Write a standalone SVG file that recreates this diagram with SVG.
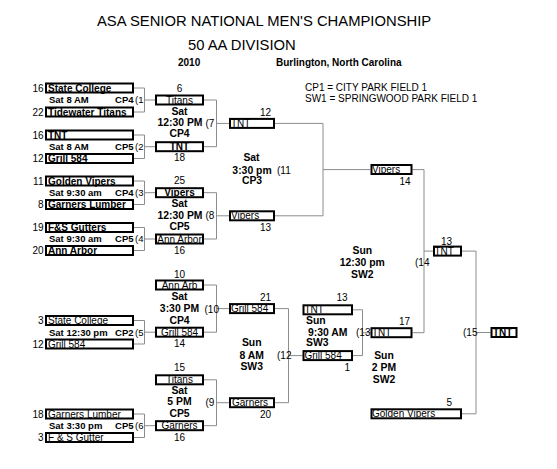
<svg xmlns="http://www.w3.org/2000/svg" width="557" height="469" viewBox="0 0 557 469">
<style>
.bx{fill:#fff;stroke:#000;stroke-width:2}
.ln{fill:none;stroke:#8c8c8c;stroke-width:1}
text{font-family:"Liberation Sans",Arial,Helvetica,sans-serif;font-size:10px;fill:#000}
.b{font-weight:bold}
.s{font-size:9.5px}
.m{font-size:10.4px}
.c{text-anchor:middle}
.e{text-anchor:end}
.h{font-size:14.8px}
</style>
<rect width="557" height="469" fill="#fff"/>
<g id="header">
<text class="h" x="97" y="26">ASA SENIOR NATIONAL MEN'S CHAMPIONSHIP</text>
<text class="h" x="188" y="50">50 AA DIVISION</text>
<text class="b" x="178" y="65.5">2010</text>
<text class="b" x="276" y="65.5">Burlington, North Carolina</text>
<text x="305" y="91">CP1 = CITY PARK FIELD 1</text>
<text x="305" y="102">SW1 = SPRINGWOOD PARK FIELD 1</text>
</g>
<g id="connectors">
<path class="ln" d="M134,88H144.5V112H134M144.5,100H155"/>
<path class="ln" d="M134,135H144.5V158.5H134M144.5,146.7H155"/>
<path class="ln" d="M134,181H144.5V204.5H134M144.5,192.7H155"/>
<path class="ln" d="M134,227.5H144.5V250.5H134M144.5,239H155"/>
<path class="ln" d="M134,320.5H144.5V344H134M144.5,332.2H155"/>
<path class="ln" d="M134,414H144.5V437.5H134M144.5,425.7H155"/>
<path class="ln" d="M204,100H216.5V146.7H204M216.5,123.4H229"/>
<path class="ln" d="M204,192.7H216.5V239H204M216.5,215.8H229"/>
<path class="ln" d="M204,285H216.5V332.2H204M216.5,308.6H229"/>
<path class="ln" d="M204,379.8H216.5V425.7H204M216.5,402.7H229"/>
<path class="ln" d="M275,123.4H323V215.8H275M323,169.6H370.5"/>
<path class="ln" d="M275,308.6H288.5V402.7H275M288.5,355.6H302.5"/>
<path class="ln" d="M353,309.8H362.5V355.6H353M362.5,332.7H370.5"/>
<path class="ln" d="M412.5,169.6H424V332.7H412.5M424,251.1H433"/>
<path class="ln" d="M462,251.1H476V413.8H462M476,332.5H490.5"/>
</g>
<g id="round1">
<g id="r1-state-college"><rect class="bx" x="46" y="83.5" width="87" height="9"/><text class="b" x="48" y="91.5">State College</text><text class="e" x="43.5" y="91.5">16</text></g>
<g id="r1-tidewater"><rect class="bx" x="46" y="107.5" width="87" height="9"/><text class="b" x="48" y="115.5">Tidewater Titans</text><text class="e" x="43.5" y="115.5">22</text></g>
<g id="r1-tnt"><rect class="bx" x="46" y="130.5" width="87" height="9"/><text class="b" x="48" y="138.5">TNT</text><text class="e" x="43.5" y="138.5">16</text></g>
<g id="r1-grill"><rect class="bx" x="46" y="154" width="87" height="9"/><text class="b" x="48" y="162">Grill 584</text><text class="e" x="43.5" y="162">12</text></g>
<g id="r1-golden-vipers"><rect class="bx" x="46" y="176.5" width="87" height="9"/><text class="b" x="48" y="184.5">Golden Vipers</text><text class="e" x="43.5" y="184.5">11</text></g>
<g id="r1-garners-lumber"><rect class="bx" x="46" y="200" width="87" height="9"/><text class="b" x="48" y="208">Garners Lumber</text><text class="e" x="43.5" y="208">8</text></g>
<g id="r1-fs-gutters"><rect class="bx" x="46" y="223" width="87" height="9"/><text class="b" x="48" y="231">F&amp;S Gutters</text><text class="e" x="43.5" y="231">19</text></g>
<g id="r1-ann-arbor"><rect class="bx" x="46" y="246" width="87" height="9"/><text class="b" x="48" y="254">Ann Arbor</text><text class="e" x="43.5" y="254">20</text></g>
<g id="r1-state-college-2"><rect class="bx" x="46" y="316" width="87" height="9"/><text x="48" y="324">State College</text><text class="e" x="43.5" y="324">3</text></g>
<g id="r1-grill-2"><rect class="bx" x="46" y="339.5" width="87" height="9"/><text x="48" y="347.5">Grill 584</text><text class="e" x="43.5" y="347.5">12</text></g>
<g id="r1-garners-lumber-2"><rect class="bx" x="46" y="409.5" width="87" height="9"/><text x="48" y="417.5">Garners Lumber</text><text class="e" x="43.5" y="417.5">18</text></g>
<g id="r1-fs-gutter-2"><rect class="bx" x="46" y="433" width="87" height="9"/><text x="48" y="441">F &amp; S Gutter</text><text class="e" x="43.5" y="441">3</text></g>
</g>
<g id="games1">
<g id="g1"><text class="b s" x="49" y="103.3">Sat 8 AM</text><text class="b s e" x="133.5" y="103.3">CP4</text><text class="s" x="135" y="103.3">(1</text></g>
<g id="g2"><text class="b s" x="49" y="150">Sat 8 AM</text><text class="b s e" x="133.5" y="150">CP5</text><text class="s" x="135" y="150">(2</text></g>
<g id="g3"><text class="b s" x="49" y="196">Sat 9:30 am</text><text class="b s e" x="133.5" y="196">CP4</text><text class="s" x="135" y="196">(3</text></g>
<g id="g4"><text class="b s" x="49" y="242.3">Sat 9:30 am</text><text class="b s e" x="133.5" y="242.3">CP5</text><text class="s" x="135" y="242.3">(4</text></g>
<g id="g5"><text class="b s" x="49" y="335.5">Sat 12:30 pm</text><text class="b s e" x="133.5" y="335.5">CP2</text><text class="s" x="135" y="335.5">(5</text></g>
<g id="g6"><text class="b s" x="49" y="429">Sat 3:30 pm</text><text class="b s e" x="133.5" y="429">CP5</text><text class="s" x="135" y="429">(6</text></g>
</g>
<g id="round2">
<g id="r2-titans"><rect class="bx" x="156" y="95.5" width="47" height="9"/><text class="c" x="179.5" y="103.5">Titans</text><text class="c" x="179.5" y="92">6</text></g>
<g id="r2-tnt"><rect class="bx" x="156" y="142.2" width="47" height="9"/><text class="b c" x="179.5" y="150.2">TNT</text><text class="c" x="179.5" y="161">18</text></g>
<g id="r2-vipers"><rect class="bx" x="156" y="188.2" width="47" height="9"/><text class="b c" x="179.5" y="196.2">Vipers</text><text class="c" x="179.5" y="183.6">25</text></g>
<g id="r2-ann-arbor"><rect class="bx" x="156" y="234.5" width="47" height="9"/><text class="c" x="179.5" y="242.5">Ann Arbor</text><text class="c" x="179.5" y="253.6">16</text></g>
<g id="r2-ann-arb"><rect class="bx" x="156" y="280.5" width="47" height="9"/><text class="c" x="179.5" y="288.5">Ann Arb</text><text class="c" x="179.5" y="278.3">10</text></g>
<g id="r2-grill"><rect class="bx" x="156" y="327.7" width="47" height="9"/><text class="c" x="179.5" y="335.7">Grill 584</text><text class="c" x="179.5" y="347">14</text></g>
<g id="r2-titans-2"><rect class="bx" x="156" y="375.3" width="47" height="9"/><text class="c" x="179.5" y="383.3">Titans</text><text class="c" x="179.5" y="371">15</text></g>
<g id="r2-garners"><rect class="bx" x="156" y="421.2" width="47" height="9"/><text class="c" x="179.5" y="429.2">Garners</text><text class="c" x="179.5" y="441.3">16</text></g>
</g>
<g id="games2">
<g id="g7"><text class="b m c" x="179.5" y="114.5">Sat</text><text class="b m c" x="180" y="126.3">12:30 PM</text><text class="b m c" x="179.5" y="137">CP4</text><text x="205.5" y="126.5">(7</text></g>
<g id="g8"><text class="b m c" x="179.5" y="206.8">Sat</text><text class="b m c" x="180" y="218.6">12:30 PM</text><text class="b m c" x="179.5" y="230.2">CP5</text><text x="205.5" y="218.8">(8</text></g>
<g id="g10"><text class="b m c" x="179.5" y="300.3">Sat</text><text class="b m c" x="179.5" y="311.9">3:30 PM</text><text class="b m c" x="179.5" y="323.6">CP4</text><text x="204.5" y="312.5">(10</text></g>
<g id="g9"><text class="b m c" x="179.5" y="393.6">Sat</text><text class="b m c" x="179.5" y="405.3">5 PM</text><text class="b m c" x="179.5" y="416.9">CP5</text><text x="205.5" y="405.8">(9</text></g>
</g>
<g id="round3">
<g id="r3-tnt"><rect class="bx" x="230" y="118.9" width="44" height="9"/><text x="231" y="126.9">TNT</text><text class="e" x="271" y="115.5">12</text></g>
<g id="r3-vipers"><rect class="bx" x="230" y="211.3" width="44" height="9"/><text x="231" y="219.3">Vipers</text><text class="e" x="271" y="230.6">13</text></g>
<g id="r3-grill"><rect class="bx" x="230" y="304.1" width="44" height="9"/><text x="231" y="312.1">Grill 584</text><text class="e" x="271" y="301">21</text></g>
<g id="r3-garners"><rect class="bx" x="230" y="398.2" width="44" height="9"/><text x="232" y="406.2">Garners</text><text class="e" x="271" y="417.6">20</text></g>
</g>
<g id="games3">
<g id="g11"><text class="b m c" x="251.5" y="161.3">Sat</text><text class="b m c" x="252" y="173.5">3:30 pm</text><text x="277" y="173.5">(11</text><text class="b m c" x="252" y="183.6">CP3</text></g>
<g id="g12"><text class="b m c" x="251.7" y="346.3">Sun</text><text class="b m c" x="251.7" y="358.6">8 AM</text><text class="b m c" x="251.7" y="370.3">SW3</text><text x="277" y="358.6">(12</text></g>
</g>
<g id="round4">
<g id="r4-tnt"><rect class="bx" x="303.5" y="305.3" width="48.5" height="9"/><text x="304.5" y="313.3">TNT</text><text class="e" x="347.5" y="301">13</text></g>
<g id="r4-grill"><rect class="bx" x="303.5" y="351.1" width="48.5" height="9"/><text x="304.5" y="359.1">Grill 584</text><text class="e" x="350" y="370.5">1</text></g>
<g id="r4-vipers"><rect class="bx" x="371.5" y="165" width="40" height="9"/><text x="372" y="173">Vipers</text><text class="e" x="410.5" y="185">14</text></g>
<g id="r4-tnt-2"><rect class="bx" x="371.5" y="328.2" width="40" height="9"/><text x="372" y="336.2">TNT</text><text class="e" x="410" y="324.5">17</text></g>
</g>
<g id="games4">
<g id="g13"><text class="b m" x="306" y="324.3">Sun</text><text class="b m" x="308" y="335.8">9:30 AM</text><text class="b m" x="306" y="346.3">SW3</text><text x="356" y="336">(13</text></g>
<g id="g14"><text class="b m c" x="362.3" y="254.3">Sun</text><text class="b m c" x="362.3" y="266">12:30 pm</text><text class="b m c" x="362.3" y="277.6">SW2</text><text x="415" y="266">(14</text></g>
<g id="g15"><text class="b m c" x="384" y="358.6">Sun</text><text class="b m c" x="384" y="370.8">2 PM</text><text class="b m c" x="384" y="382.5">SW2</text><text x="463" y="336">(15</text></g>
</g>
<g id="round5">
<g id="r5-tnt"><rect class="bx" x="434" y="246.6" width="27" height="9"/><text x="434.5" y="254.6">TNT</text><text class="c" x="446.5" y="245">13</text></g>
<g id="r5-golden-vipers"><rect class="bx" x="371.5" y="409.3" width="89.5" height="9"/><text x="372" y="417.3">Golden Vipers</text><text class="e" x="452" y="406">5</text></g>
<g id="champion"><rect class="bx" x="491.5" y="328" width="25" height="9"/><text class="b" x="493" y="336">TNT</text></g>
</g>
</svg>
